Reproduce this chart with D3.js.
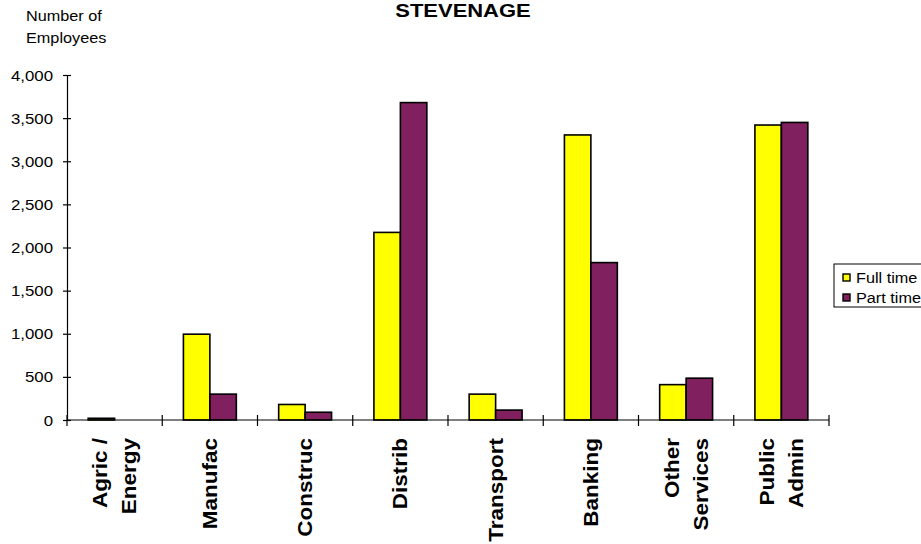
<!DOCTYPE html>
<html>
<head>
<meta charset="utf-8">
<script src="https://cdn.jsdelivr.net/npm/d3@7/dist/d3.min.js"></script>
<style>
  html, body { margin: 0; padding: 0; background: #ffffff; }
  svg { display: block; font-family: "Liberation Sans", Arial, sans-serif; }
</style>
</head>
<body>
<svg id="chart" width="921" height="544"></svg>
<script>
// Employees by industry sector, Stevenage
const categories = [
  ["Agric /", "Energy"],
  ["Manufac"],
  ["Construc"],
  ["Distrib"],
  ["Transport"],
  ["Banking"],
  ["Other", "Services"],
  ["Public", "Admin"]
];
const seriesNames = ["Full time", "Part time"];
const fullTime = [20, 995, 180, 2175, 300, 3305, 410, 3420];
const partTime = [0, 300, 90, 3680, 115, 1825, 485, 3450];
const yTicks = [0, 500, 1000, 1500, 2000, 2500, 3000, 3500, 4000];
const colors = ["#FFFF00", "#80205F"];

const svg = d3.select("#chart");
const plotLeft = 67, plotRight = 829, plotTop = 75, plotBottom = 420;
const stretch = 1.16;

const keys = categories.map(c => c.join(" "));
const rows = keys.map((k, i) => ({ key: k, lines: categories[i], values: [fullTime[i], partTime[i]] }));

const x0 = d3.scaleBand().domain(keys).range([plotLeft, plotRight]).paddingInner(0).paddingOuter(0);
const x1 = d3.scaleBand().domain(seriesNames).range([0, x0.bandwidth()]).paddingInner(0).paddingOuter(0.8);
const y = d3.scaleLinear().domain([0, 4000]).range([plotBottom, plotTop]);

// Title
svg.append("text")
  .attr("transform", `translate(463,17) scale(1.22,1)`)
  .attr("text-anchor", "middle")
  .attr("font-size", 18).attr("font-weight", "bold")
  .text("STEVENAGE");

// Y axis title
[["Number of", 21], ["Employees", 43]].forEach(([t, yy]) => {
  svg.append("text")
    .attr("transform", `translate(26,${yy}) scale(${stretch},1)`)
    .attr("font-size", 14)
    .text(t);
});

// Bars
const groups = svg.append("g").selectAll("g").data(rows).join("g")
  .attr("transform", d => `translate(${x0(d.key)},0)`);
groups.selectAll("rect")
  .data(d => d.values.map((v, i) => ({ name: seriesNames[i], v, i })).filter(e => e.v > 0))
  .join("rect")
  .attr("x", e => x1(e.name))
  .attr("y", e => y(e.v))
  .attr("width", x1.bandwidth())
  .attr("height", e => y(0) - y(e.v))
  .attr("fill", e => colors[e.i])
  .attr("stroke", "#000").attr("stroke-width", 1.6);

// Y axis
const yAxis = svg.append("g").attr("transform", `translate(${plotLeft},0)`)
  .call(d3.axisLeft(y).tickValues(yTicks).tickFormat(d3.format(",")).tickSizeInner(4).tickSizeOuter(0));
yAxis.select(".domain").attr("stroke", "#000").attr("stroke-width", 1.2);
yAxis.selectAll(".tick line").attr("x1", 4).attr("x2", -4).attr("stroke-width", 1.2);
yAxis.selectAll(".tick text")
  .attr("x", null).attr("dy", null)
  .attr("font-family", "Liberation Sans, Arial, sans-serif")
  .attr("font-size", 14.5).attr("fill", "#000")
  .attr("text-anchor", "end")
  .attr("transform", `translate(-14,5) scale(${stretch},1)`);

// X axis with ticks at category boundaries
const xAxisG = svg.append("g");
xAxisG.append("line")
  .attr("x1", plotLeft).attr("x2", plotRight).attr("y1", y(0)).attr("y2", y(0))
  .attr("stroke", "#000").attr("stroke-width", 1.2);
const bounds = keys.map(k => x0(k)).concat([x0(keys[keys.length - 1]) + x0.bandwidth()]);
xAxisG.selectAll(".bt").data(bounds).join("line")
  .attr("x1", d => d).attr("x2", d => d)
  .attr("y1", y(0) - 5).attr("y2", y(0) + 6)
  .attr("stroke", "#000").attr("stroke-width", 1.2);

// Category labels, rotated
const lineGap = 29;
rows.forEach(r => {
  const cx = x0(r.key) + x0.bandwidth() / 2;
  const n = r.lines.length;
  r.lines.forEach((t, j) => {
    const bx = cx + 7 + (j - (n - 1) / 2) * lineGap;
    svg.append("text")
      .attr("transform", `translate(${bx},438) scale(0.92,1) rotate(-90)`)
      .attr("text-anchor", "end")
      .attr("font-size", 22.5).attr("font-weight", "bold")
      .text(t);
  });
});

// Legend
const lg = svg.append("g").attr("transform", "translate(834,264)");
lg.append("rect").attr("x", 0).attr("y", 0).attr("width", 100).attr("height", 43)
  .attr("fill", "#fff").attr("stroke", "#000").attr("stroke-width", 1);
seriesNames.forEach((s, i) => {
  const yy = 14 + i * 20;
  lg.append("rect").attr("x", 9).attr("y", yy - 4).attr("width", 7).attr("height", 7)
    .attr("fill", colors[i]).attr("stroke", "#000").attr("stroke-width", 1.4);
  lg.append("text")
    .attr("transform", `translate(22,${yy + 5}) scale(${stretch},1)`)
    .attr("font-size", 14).text(s);
});
</script>
</body>
</html>
